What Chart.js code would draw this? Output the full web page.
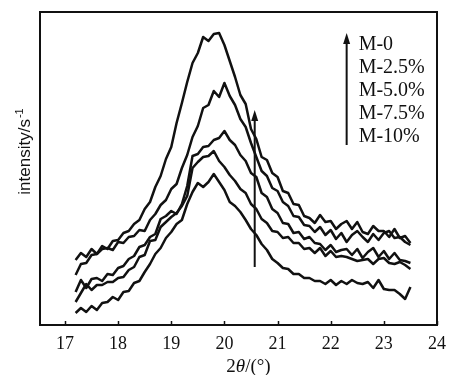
<!DOCTYPE html>
<html>
<head>
<meta charset="utf-8">
<script src="https://cdn.jsdelivr.net/npm/chart.js@4.4.0/dist/chart.umd.min.js"></script>
<style>
  html, body { margin: 0; padding: 0; background: #fff; }
</style>
</head>
<body>
<canvas id="xrd" width="454" height="375"></canvas>
<script>
// 2theta positions (degrees)
const twoTheta = [
  17.2, 17.3, 17.4, 17.5, 17.6, 17.7, 17.8, 17.9,
  18.0, 18.1, 18.2, 18.3, 18.4, 18.5, 18.6, 18.7, 18.8, 18.9,
  19.0, 19.1, 19.2, 19.3, 19.4, 19.5, 19.6, 19.7, 19.8, 19.9,
  20.0, 20.1, 20.2, 20.3, 20.4, 20.5, 20.6, 20.7, 20.8, 20.9,
  21.0, 21.1, 21.2, 21.3, 21.4, 21.5, 21.6, 21.7, 21.8, 21.9,
  22.0, 22.1, 22.2, 22.3, 22.4, 22.5, 22.6, 22.7, 22.8, 22.9,
  23.0, 23.1, 23.2, 23.3, 23.4, 23.5
]

// intensity (arbitrary units)
const m0 = [
  65, 72, 68, 76, 71, 79, 76, 84,
  85, 92, 94, 101, 105, 116, 123, 138, 149, 166,
  178, 202, 222, 243, 262, 272, 288, 284, 291, 292,
  280, 264, 248, 230, 221, 196, 186, 168, 165, 152,
  148, 134, 132, 121, 120, 109, 107, 102, 110, 103,
  104, 96, 101, 104, 96, 103, 93, 91, 99, 94,
  94, 88, 96, 87, 89, 82
]
const m25 = [
  50, 61, 62, 70, 71, 76, 77, 75,
  83, 82, 88, 89, 95, 94, 105, 111, 120, 125,
  136, 141, 157, 170, 188, 199, 217, 220, 234, 228,
  242, 229, 220, 206, 198, 182, 168, 154, 149, 137,
  134, 123, 119, 109, 108, 100, 99, 93, 98, 90,
  95, 86, 92, 83, 90, 94, 88, 83, 91, 85,
  92, 94, 87, 88, 83, 80
]
const m50 = [
  33, 45, 37, 46, 47, 44, 51, 50,
  57, 59, 66, 69, 78, 80, 88, 91, 106, 109,
  114, 111, 121, 139, 169, 171, 178, 179, 185, 187,
  194, 185, 180, 170, 164, 152, 148, 132, 128, 116,
  112, 102, 101, 92, 93, 86, 88, 82, 81, 75,
  80, 73, 75, 76, 70, 76, 67, 73, 77, 68,
  74, 66, 72, 65, 64, 62
]
const m75 = [
  23, 32, 41, 35, 40, 40, 43, 43,
  47, 48, 55, 58, 68, 70, 84, 85, 98, 103,
  108, 112, 119, 129, 157, 163, 168, 169, 174, 164,
  158, 150, 144, 136, 132, 121, 116, 106, 102, 94,
  93, 87, 88, 82, 82, 76, 77, 72, 77, 69,
  74, 68, 69, 68, 66, 64, 65, 66, 61, 66,
  67, 62, 61, 63, 60, 56
]
const m10 = [
  12, 17, 13, 19, 15, 22, 23, 28,
  25, 33, 34, 42, 44, 53, 61, 71, 77, 87,
  93, 101, 105, 121, 133, 142, 138, 143, 151, 143,
  135, 123, 119, 113, 105, 96, 90, 81, 75, 66,
  62, 57, 56, 51, 51, 47, 47, 44, 44, 41,
  45, 40, 44, 41, 45, 42, 41, 43, 37, 45,
  36, 35, 35, 31, 26, 38
]

const seriesNames = ['M-0', 'M-2.5%', 'M-5.0%', 'M-7.5%', 'M-10%']
const seriesValues = [m0, m25, m50, m75, m10]
const xTicks = [17, 18, 19, 20, 21, 22, 23, 24]

// the arrow in the plot: from M-10 up to M-0 (x, y-from, y-to in data units)
const trendArrow = [20.57, 58, 215]
// legend arrow
const legendArrow = [22.3, 180, 292]

const INK = '#111'

function arrow(ctx, px, y0, y1) {
  ctx.beginPath()
  ctx.moveTo(px, y0)
  ctx.lineTo(px, y1 + 8)
  ctx.stroke()
  ctx.beginPath()
  ctx.moveTo(px, y1)
  ctx.lineTo(px - 3.5, y1 + 11)
  ctx.lineTo(px + 3.5, y1 + 11)
  ctx.closePath()
  ctx.fill()
}

const decor = {
  id: 'decor',
  afterDatasetsDraw(chart) {
    const { ctx, chartArea: a, scales: { x, y } } = chart
    ctx.save()
    ctx.strokeStyle = INK
    ctx.fillStyle = INK

    // frame
    ctx.lineWidth = 2
    ctx.strokeRect(a.left, a.top, a.right - a.left, a.bottom - a.top)

    // inward ticks on the bottom axis
    ctx.lineWidth = 1.5
    xTicks.forEach(v => {
      const px = Math.round(x.getPixelForValue(v)) + 0.5
      ctx.beginPath()
      ctx.moveTo(px, a.bottom)
      ctx.lineTo(px, a.bottom - 4)
      ctx.stroke()
    })

    // arrows
    ctx.lineWidth = 2
    arrow(ctx, x.getPixelForValue(trendArrow[0]),
      y.getPixelForValue(trendArrow[1]), y.getPixelForValue(trendArrow[2]))
    const lx = x.getPixelForValue(legendArrow[0])
    const ly = y.getPixelForValue(legendArrow[2])
    arrow(ctx, lx, y.getPixelForValue(legendArrow[1]), ly)

    // legend text
    ctx.font = '20px "Liberation Serif"'
    ctx.textAlign = 'left'
    ctx.textBaseline = 'alphabetic'
    chart.data.datasets.forEach((ds, i) => {
      ctx.fillText(ds.label, lx + 12, ly + 17 + i * 23)
    })

    // x title: 2θ/(°)
    const parts = [['2', ''], ['θ', 'italic '], ['/(°)', '']]
    let total = 0
    parts.forEach(p => {
      ctx.font = p[1] + '19px "Liberation Serif"'
      total += ctx.measureText(p[0]).width
    })
    let cx = (a.left + a.right) / 2 + 10 - total / 2
    parts.forEach(p => {
      ctx.font = p[1] + '19px "Liberation Serif"'
      ctx.fillText(p[0], cx, 372)
      cx += ctx.measureText(p[0]).width
    })

    // y title: intensity/s^-1
    ctx.save()
    ctx.translate(30, 152)
    ctx.rotate(-Math.PI / 2)
    ctx.font = '17px "Liberation Sans"'
    const main = 'intensity/s'
    const w1 = ctx.measureText(main).width
    ctx.font = '11px "Liberation Sans"'
    const w2 = ctx.measureText('-1').width
    const start = -(w1 + w2) / 2
    ctx.font = '17px "Liberation Sans"'
    ctx.fillText(main, start, 0)
    ctx.font = '11px "Liberation Sans"'
    ctx.fillText('-1', start + w1 + 1, -7)
    ctx.restore()

    ctx.restore()
  }
}

const datasets = seriesNames.map((name, i) => ({
  label: name,
  data: twoTheta.map((t, j) => ({ x: t, y: seriesValues[i][j] })),
  borderColor: INK,
  borderWidth: 2.5,
  pointRadius: 0,
  tension: 0,
  borderJoinStyle: 'round',
  fill: false
}))

new Chart(document.getElementById('xrd').getContext('2d'), {
  type: 'line',
  data: { datasets },
  options: {
    responsive: false,
    animation: false,
    events: [],
    layout: { padding: { top: 12, right: 11, left: 0, bottom: 0 } },
    plugins: {
      legend: { display: false },
      tooltip: { enabled: false }
    },
    scales: {
      x: {
        type: 'linear',
        min: 16.53,
        max: 24,
        afterBuildTicks: scale => {
          scale.ticks = xTicks.map(v => ({ value: v }))
        },
        afterFit: scale => { scale.height = 50 },
        grid: { display: false, drawTicks: false },
        border: { display: false },
        ticks: {
          color: INK,
          font: { family: '"Liberation Serif"', size: 18 },
          padding: 8,
          maxRotation: 0,
          autoSkip: false
        }
      },
      y: {
        min: 0,
        max: 313,
        afterFit: scale => { scale.width = 40 },
        grid: { display: false, drawTicks: false },
        border: { display: false },
        ticks: { display: false }
      }
    }
  },
  plugins: [decor]
})
</script>
</body>
</html>
